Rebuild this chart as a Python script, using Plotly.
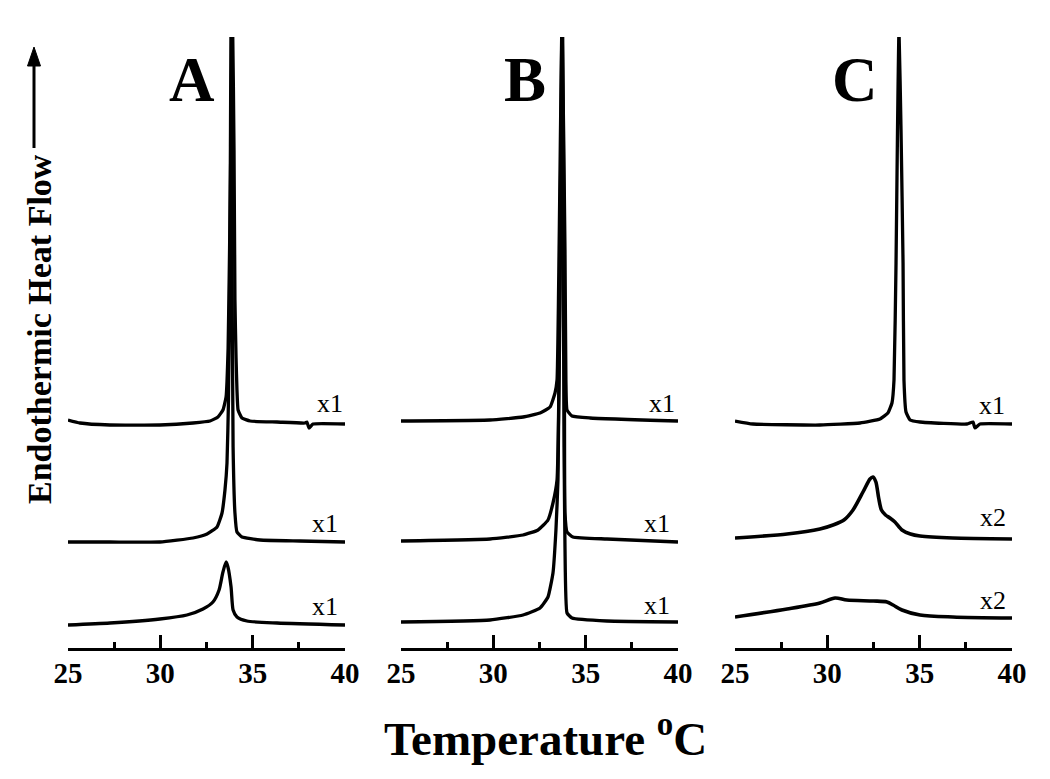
import plotly.graph_objects as go

# ---------------- data (temperature in degC, heat flow in arbitrary units) -------------
A_top_T  = [25.0, 25.65, 27.27, 29.98, 31.77, 32.69, 33.12, 33.39, 33.56, 33.67, 33.75, 33.83, 33.91, 33.99, 34.04, 34.10, 34.15, 34.21, 34.42, 34.86, 36.32, 37.83, 37.94, 38.05, 38.27, 40.0]
A_top_HF = [22.8, 22.5, 22.3, 22.3, 22.5, 22.7, 23.1, 23.8, 25.1, 30.0, 40.0, 52.0, 62.8, 49.8, 34.8, 29.0, 25.8, 23.8, 23.0, 22.7, 22.6, 22.5, 22.6, 22.0, 22.4, 22.4]

A_mid_T  = [25.0, 27.27, 29.98, 31.77, 32.53, 33.07, 33.34, 33.50, 33.61, 33.69, 33.77, 33.83, 33.88, 33.94, 34.04, 34.15, 34.42, 35.40, 37.56, 40.0]
A_mid_HF = [10.6, 10.6, 10.6, 11.0, 11.4, 12.1, 13.5, 15.8, 18.5, 24.8, 39.8, 62.8, 39.8, 20.1, 13.5, 11.6, 11.1, 10.8, 10.7, 10.6]

A_bot_T  = [25.0, 27.27, 29.98, 31.44, 32.31, 32.85, 33.18, 33.39, 33.56, 33.66, 33.83, 33.94, 34.15, 34.69, 36.32, 40.0]
A_bot_HF = [2.3, 2.5, 2.9, 3.3, 3.9, 4.6, 5.8, 7.6, 8.6, 8.1, 6.1, 3.8, 3.1, 2.7, 2.5, 2.3]

B_top_T  = [25.0, 29.82, 31.61, 32.53, 33.07, 33.34, 33.45, 33.56, 33.72, 33.88, 33.93, 33.99, 34.26, 35.23, 40.0]
B_top_HF = [22.7, 22.8, 23.1, 23.5, 24.1, 25.5, 26.8, 39.8, 62.8, 39.8, 26.8, 23.8, 23.2, 23.0, 22.7]

B_mid_T  = [25.0, 29.82, 31.61, 32.42, 32.96, 33.23, 33.45, 33.58, 33.75, 33.85, 33.88, 33.99, 34.31, 36.15, 40.0]
B_mid_HF = [10.7, 10.9, 11.3, 11.8, 12.8, 14.5, 16.8, 29.8, 62.8, 29.8, 13.5, 11.6, 11.1, 10.9, 10.6]

B_bot_T  = [25.0, 29.82, 31.61, 32.53, 32.96, 33.23, 33.39, 33.50, 33.72, 33.83, 33.88, 33.99, 34.26, 36.15, 40.0]
B_bot_HF = [2.6, 2.8, 3.3, 4.0, 5.1, 7.5, 11.8, 16.8, 62.8, 20.1, 10.1, 3.5, 3.0, 2.7, 2.6]

C_top_T  = [25.0, 25.97, 29.60, 31.77, 32.85, 33.28, 33.50, 33.61, 33.72, 33.80, 33.88, 33.99, 34.10, 34.15, 34.26, 34.48, 35.02, 37.56, 37.89, 37.99, 38.27, 40.0]
C_top_HF = [22.7, 22.4, 22.3, 22.5, 22.9, 23.5, 24.5, 26.8, 38.5, 51.8, 61.8, 51.8, 38.5, 26.8, 23.6, 22.8, 22.6, 22.4, 22.6, 22.0, 22.4, 22.4]

C_mid_T  = [25.0, 27.82, 29.60, 30.31, 30.90, 31.39, 31.93, 32.31, 32.47, 32.63, 32.78, 32.93, 33.15, 33.39, 33.66, 34.04, 34.50, 35.02, 36.80, 40.0]
C_mid_HF = [11.0, 11.4, 11.9, 12.3, 12.8, 13.8, 15.6, 16.9, 17.1, 16.6, 15.0, 13.8, 13.3, 13.0, 12.6, 11.8, 11.4, 11.2, 11.0, 10.9]

C_bot_T  = [25.0, 27.82, 29.60, 30.42, 31.06, 32.50, 33.23, 33.56, 34.04, 35.02, 36.80, 40.0]
C_bot_HF = [3.1, 3.9, 4.5, 5.0, 4.8, 4.7, 4.6, 4.3, 3.8, 3.3, 3.1, 3.0]

panel_letters = ["A", "B", "C"]
scale_labels = [["x1", "x1", "x1"], ["x1", "x1", "x1"], ["x1", "x2", "x2"]]
major_ticks = [25, 30, 35, 40]
minor_ticks = [27.5, 32.5, 37.5]

# ---------------- figure --------------------------------------------------------------
W, H = 1050, 779
FONT = "Liberation Serif, Times New Roman, serif"

fig = go.Figure()
panels = [
    [(A_top_T, A_top_HF), (A_mid_T, A_mid_HF), (A_bot_T, A_bot_HF)],
    [(B_top_T, B_top_HF), (B_mid_T, B_mid_HF), (B_bot_T, B_bot_HF)],
    [(C_top_T, C_top_HF), (C_mid_T, C_mid_HF), (C_bot_T, C_bot_HF)],
]
broad = {(0, 2): 0.6, (2, 1): 0.7, (2, 2): 0.8}
for i, curves in enumerate(panels):
    sfx = "" if i == 0 else str(i + 1)
    for j, (t, hf) in enumerate(curves):
        lw = 3.6 if (i == 2 and j > 0) else 3.3
        sm = broad.get((i, j), 0.4)
        fig.add_trace(go.Scatter(x=t, y=hf, mode="lines", xaxis="x" + sfx, yaxis="y" + sfx,
                                 line=dict(color="black", width=lw, shape="spline", smoothing=sm),
                                 showlegend=False, hoverinfo="skip"))

px_left = [68, 401, 735]
px_w = 277
y_bot, y_top = 648, 37
ydom = [(H - y_bot) / H, (H - y_top) / H]

layout = dict(width=W, height=H, autosize=False, margin=dict(l=0, r=0, t=0, b=0, pad=0, autoexpand=False),
              paper_bgcolor="white", plot_bgcolor="white", showlegend=False)
for i in range(3):
    sfx = "" if i == 0 else str(i + 1)
    layout["xaxis" + sfx] = dict(
        domain=[px_left[i] / W, (px_left[i] + px_w) / W], range=[25, 40],
        tickvals=major_ticks, ticks="inside", ticklen=13, tickwidth=3, tickcolor="black",
        showline=True, linewidth=3, linecolor="black", showgrid=False, zeroline=False,
        anchor="y" + sfx, ticklabelstandoff=-3, automargin=False,
        tickfont=dict(family=FONT, size=29, color="black", weight="bold"),
        minor=dict(tickvals=minor_ticks, ticks="inside", ticklen=6, tickwidth=3, tickcolor="black", showgrid=False),
        fixedrange=True)
    layout["yaxis" + sfx] = dict(domain=ydom, range=[0, 61.1], visible=False, anchor="x" + sfx,
                                 automargin=False, fixedrange=True)
fig.update_layout(**layout)

ann = []
letter_pos = [(192, 80), (525, 80), (855, 80)]
for k, (lx, ly) in enumerate(letter_pos):
    ann.append(dict(text=panel_letters[k], x=lx / W, y=1 - ly / H, xref="paper", yref="paper",
                    showarrow=False, xanchor="center", yanchor="middle",
                    font=dict(family=FONT, size=63, color="black", weight="bold")))
label_pos = [[(330, 403), (325, 523), (325, 606)],
             [(662, 403), (657, 523), (657, 605)],
             [(992, 405), (993, 517), (993, 600)]]
for i in range(3):
    for j in range(3):
        lx, ly = label_pos[i][j]
        ann.append(dict(text=scale_labels[i][j], x=lx / W, y=1 - ly / H, xref="paper", yref="paper",
                        showarrow=False, xanchor="center", yanchor="middle",
                        font=dict(family=FONT, size=26, color="black")))
ann.append(dict(text="Temperature <sup>o</sup>C", x=545 / W, y=1 - 735 / H, xref="paper", yref="paper",
                showarrow=False, xanchor="center", yanchor="middle",
                font=dict(family=FONT, size=47, color="black", weight="bold")))
ann.append(dict(text="Endothermic Heat Flow", x=40 / W, y=1 - 329 / H, xref="paper", yref="paper",
                showarrow=False, xanchor="center", yanchor="middle", textangle=-90,
                font=dict(family=FONT, size=34, color="black", weight="bold")))
fig.update_layout(annotations=ann)

# arrow along the y-axis label
ax_x = 34
fig.add_shape(type="line", xref="paper", yref="paper",
              x0=ax_x / W, x1=ax_x / W, y0=1 - 148 / H, y1=1 - 62 / H,
              line=dict(color="black", width=3))
fig.add_shape(type="path", xref="paper", yref="paper",
              path=f"M {(ax_x - 6.5) / W} {1 - 66 / H} L {(ax_x + 6.5) / W} {1 - 66 / H} L {ax_x / W} {1 - 47 / H} Z",
              fillcolor="black", line=dict(color="black", width=1))

fig.write_html("out.html", config={"responsive": False, "displayModeBar": False},
               post_script="document.body.style.margin='0';document.body.style.overflow='hidden';")
